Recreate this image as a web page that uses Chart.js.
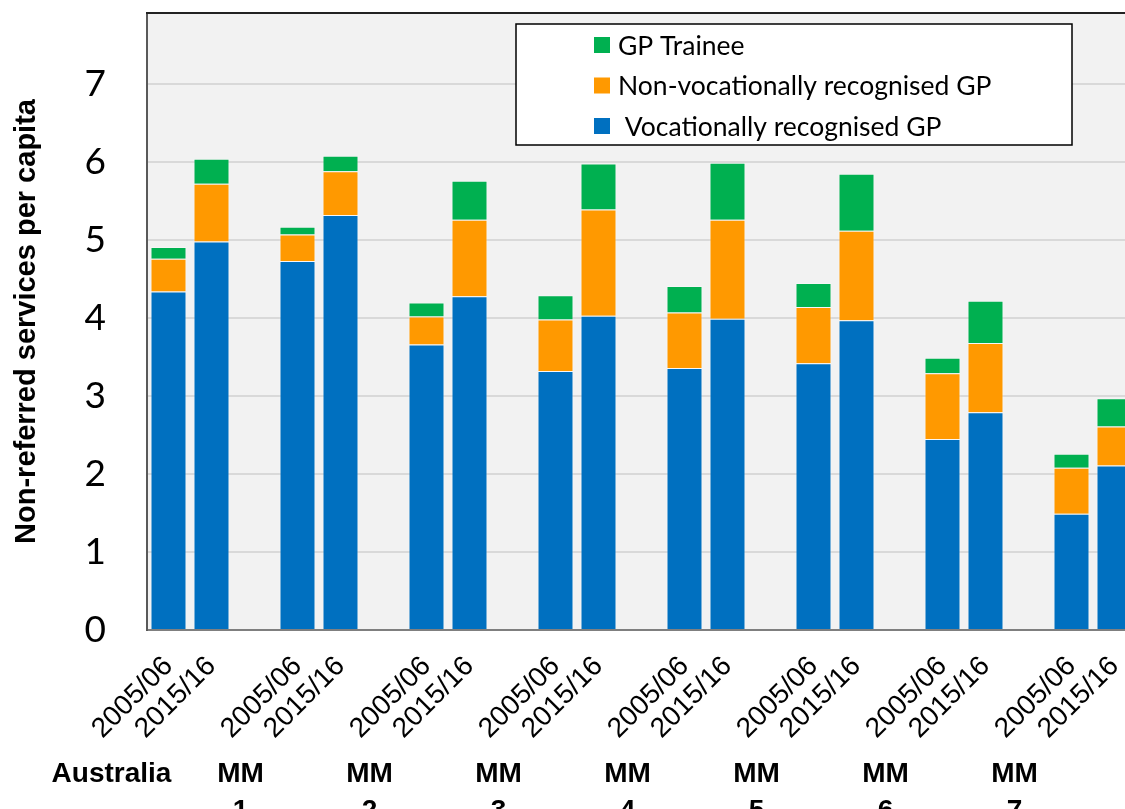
<!DOCTYPE html>
<html lang="en">
<head>
    <meta charset="UTF-8">
    <title>Non-referred services per capita</title>
    <script src="https://cdn.jsdelivr.net/npm/chart.js"></script>
    <style>
        body {
            margin: 0;
            padding: 0;
            background-color: #fff;
            overflow: hidden;
        }
        .chart-box {
            position: absolute;
            left: 0;
            top: 0;
            width: 1190px;
            height: 809px;
        }
    </style>
</head>
<body>
    <div class="chart-box">
        <canvas id="gpChart" width="1190" height="809"></canvas>
    </div>

    <script>
        // Data
        const regions = ['Australia', 'MM 1', 'MM 2', 'MM 3', 'MM 4', 'MM 5', 'MM 6', 'MM 7'];
        const periods = ['2005/06', '2015/16'];
        // one value per region and period (2005/06, 2015/16, ...)
        const vocational    = [4.34, 4.98, 4.73, 5.32, 3.66, 4.28, 3.32, 4.03, 3.36, 3.99, 3.42, 3.97, 2.45, 2.79, 1.49, 2.11];
        const nonVocational = [0.42, 0.74, 0.34, 0.56, 0.36, 0.98, 0.66, 1.36, 0.71, 1.27, 0.72, 1.15, 0.84, 0.89, 0.59, 0.50];
        const trainee       = [0.15, 0.32, 0.10, 0.20, 0.18, 0.50, 0.31, 0.59, 0.34, 0.73, 0.31, 0.73, 0.20, 0.54, 0.18, 0.36];
        const yTicks = [0, 1, 2, 3, 4, 5, 6, 7];

        // Each region gets its two period bars plus an empty gap slot
        const labels = [];
        regions.forEach(() => { labels.push(...periods, ''); });

        function withGaps(values) {
            const out = [];
            for (let i = 0; i < regions.length; i++) {
                out.push(values[i * 2], values[i * 2 + 1], null);
            }
            return out;
        }

        // Grey plot background + top frame line
        const plotFrame = {
            id: 'plotFrame',
            beforeDraw(chart) {
                const a = chart.chartArea;
                const ctx = chart.ctx;
                ctx.save();
                ctx.fillStyle = '#f2f2f2';
                ctx.fillRect(a.left, a.top, a.right - a.left, a.bottom - a.top);
                ctx.restore();
            },
            afterDraw(chart) {
                const a = chart.chartArea;
                const ctx = chart.ctx;
                ctx.save();
                ctx.strokeStyle = '#222';
                ctx.lineWidth = 2;
                ctx.beginPath();
                ctx.moveTo(a.left - 1, a.top);
                ctx.lineTo(a.right, a.top);
                ctx.stroke();
                ctx.restore();
            }
        };

        // Boxed legend inside the plot, trainee on top
        const boxLegend = {
            id: 'boxLegend',
            afterDraw(chart) {
                const a = chart.chartArea;
                const ctx = chart.ctx;
                const x = a.left + 369, y = a.top + 11;
                ctx.save();
                ctx.fillStyle = '#fff';
                ctx.fillRect(x, y, 556, 121);
                ctx.strokeStyle = '#000';
                ctx.lineWidth = 1.5;
                ctx.strokeRect(x, y, 556, 121);
                ctx.font = '26.5px Lato, "Open Sans", sans-serif';
                ctx.textBaseline = 'middle';
                const sets = chart.data.datasets.slice().reverse();
                sets.forEach((ds, i) => {
                    const cy = y + 21 + i * 40.5;
                    ctx.fillStyle = ds.backgroundColor;
                    ctx.fillRect(x + 78, cy - 8, 16, 16);
                    ctx.fillStyle = '#000';
                    ctx.fillText(ds.label, x + 102, cy + 1);
                });
                ctx.restore();
            }
        };

        // Region names under the rotated period labels
        const regionLabels = {
            id: 'regionLabels',
            afterDraw(chart) {
                const xs = chart.scales.x;
                const ctx = chart.ctx;
                ctx.save();
                ctx.font = 'bold 28px "Liberation Sans", Arial, sans-serif';
                ctx.fillStyle = '#000';
                ctx.textAlign = 'center';
                ctx.textBaseline = 'alphabetic';
                regions.forEach((name, i) => {
                    const cx = xs.getPixelForValue(i * 3) - xs.getPixelForValue(1) + xs.getPixelForValue(0) - 14;
                    const lines = name.split(' ');
                    lines.forEach((line, j) => {
                        ctx.fillText(line, cx, 782 + j * 37);
                    });
                });
                ctx.restore();
            }
        };

        const ctxGp = document.getElementById('gpChart').getContext('2d');
        const gpChart = new Chart(ctxGp, {
            type: 'bar',
            data: {
                labels: labels,
                datasets: [{
                    label: ' Vocationally recognised GP',
                    data: withGaps(vocational),
                    backgroundColor: '#0070c0',
                    borderColor: 'rgba(255,255,255,0.35)',
                    borderWidth: 1
                }, {
                    label: 'Non-vocationally recognised GP',
                    data: withGaps(nonVocational),
                    backgroundColor: '#ff9900',
                    borderColor: 'rgba(255,255,255,0.35)',
                    borderWidth: 1
                }, {
                    label: 'GP Trainee',
                    data: withGaps(trainee),
                    backgroundColor: '#00b050',
                    borderColor: 'rgba(255,255,255,0.35)',
                    borderWidth: 1
                }]
            },
            options: {
                responsive: false,
                animation: false,
                layout: {
                    padding: { top: 13, right: 11, bottom: 0, left: 0 }
                },
                datasets: {
                    bar: {
                        categoryPercentage: 1,
                        barPercentage: 36 / 43
                    }
                },
                plugins: {
                    legend: { display: false },
                    tooltip: { enabled: false }
                },
                scales: {
                    x: {
                        stacked: true,
                        grid: { display: false },
                        border: { display: true, color: '#7f7f7f', width: 2 },
                        ticks: {
                            autoSkip: false,
                            minRotation: 45,
                            maxRotation: 45,
                            padding: 12,
                            color: '#000',
                            font: { family: '"Liberation Sans", Arial, sans-serif', size: 28 }
                        },
                        afterFit(scale) {
                            scale.height = 179;
                            scale.paddingLeft = 0;
                            scale.paddingRight = 0;
                            scale.paddingTop = 0;
                            scale.paddingBottom = 0;
                        }
                    },
                    y: {
                        stacked: true,
                        min: 0,
                        max: 7.91,
                        afterBuildTicks(scale) {
                            scale.ticks = yTicks.map(v => ({ value: v }));
                        },
                        grid: { color: '#d9d9d9', lineWidth: 2, drawTicks: false },
                        border: { display: true, color: '#595959', width: 2 },
                        ticks: {
                            padding: 41,
                            color: '#000',
                            font: { family: 'Lato, "Open Sans", sans-serif', size: 37 }
                        },
                        title: {
                            display: true,
                            text: 'Non-referred services per capita',
                            color: '#000',
                            padding: { top: 10, bottom: 0 },
                            font: { family: '"Liberation Sans", Arial, sans-serif', size: 29, weight: 'bold' }
                        },
                        afterFit(scale) {
                            scale.width = 147;
                            scale.paddingTop = 0;
                            scale.paddingBottom = 0;
                            scale.paddingLeft = 0;
                            scale.paddingRight = 0;
                        }
                    }
                }
            },
            plugins: [plotFrame, boxLegend, regionLabels]
        });
    </script>
</body>
</html>
